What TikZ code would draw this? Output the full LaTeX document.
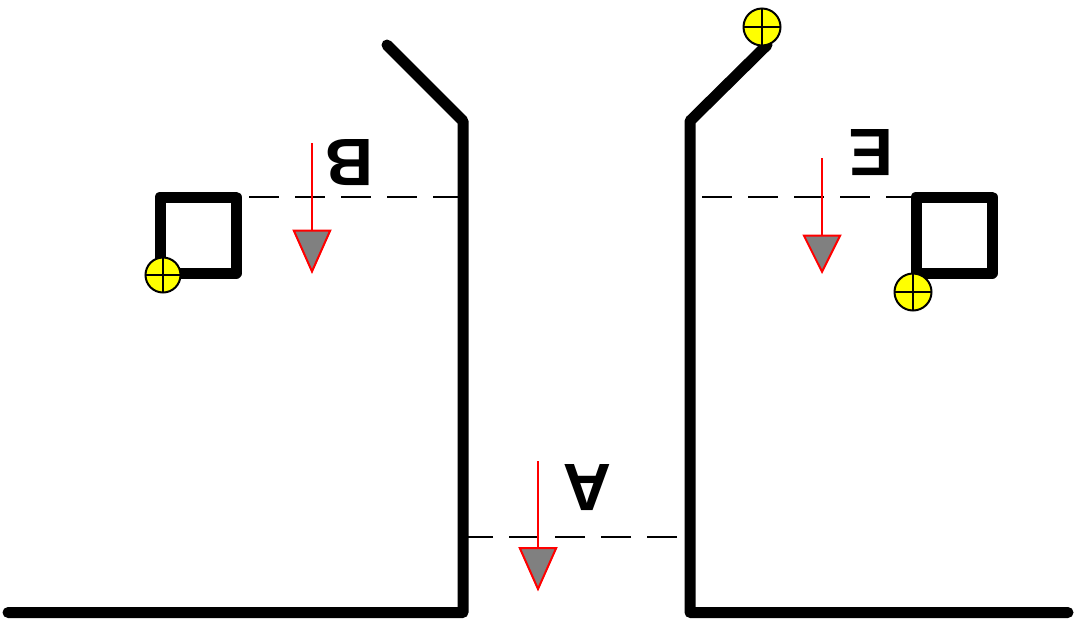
\documentclass[tikz,border=0pt]{standalone}
\usepackage{fontspec}
\setmainfont{Liberation Sans}
\usetikzlibrary{arrows.meta}
\definecolor{weldyellow}{RGB}{255,255,0}
\begin{document}
\begin{tikzpicture}
[x=1pt,y=-1pt,
wall/.style={line width=11pt,line cap=round,line join=round},
box/.style={draw,line width=11pt,line join=round,minimum size=76pt,inner sep=0pt,outer sep=0pt},
weld/.style={circle,draw,line width=2pt,fill=weldyellow,inner sep=0pt,outer sep=0pt,minimum size=#1,
  path picture={\draw[line width=2pt] (path picture bounding box.north) -- (path picture bounding box.south)
    (path picture bounding box.west) -- (path picture bounding box.east);}},
cut/.style={line width=1.8pt,dash pattern=on 30pt off 16pt},
view/.style={red,line width=2pt,-{Triangle[length=#1,width=39pt,fill=gray]}},
view/.default=44.5pt,
letter/.style={font=\bfseries\fontsize{67pt}{67pt}\selectfont,rotate=180,inner sep=0pt}]
\useasboundingbox (0,0) rectangle (1074,630);
% left profile
\coordinate (l0) at (8,612.5);
\coordinate (l1) at (463,612.5);
\coordinate (l2) at (463,121);
\coordinate (l3) at (387,45);
\draw[wall] (l0) -- (l1) -- (l2) -- (l3);
% right profile
\coordinate (r0) at (1068,612.5);
\coordinate (r1) at (690,612.5);
\coordinate (r2) at (690,121);
\coordinate (r3) at (767,45);
\draw[wall] (r0) -- (r1) -- (r2) -- (r3);
% boxes
\node[box] (bl) at (198,235) {};
\node[box] (br) at (954,235) {};
% section lines
\coordinate (c1) at (249,197);
\coordinate (c2) at (463,197);
\coordinate (c3) at (702,197);
\coordinate (c4) at (916,197);
\coordinate (c5) at (677,537);
\coordinate (c6) at (463,537);
\draw[cut] (c1) -- (c2);
\draw[cut] (c3) -- (c4);
\draw[cut] (c5) -- (c6);
% welds
\node[weld=35pt] (w1) at (163,275) {};
\node[weld=37pt] (w2) at (762,27) {};
\node[weld=37pt] (w3) at (913,292) {};
% views
\coordinate (vb0) at (312,143);
\coordinate (vb1) at (312,274);
\coordinate (ve0) at (822,158);
\coordinate (ve1) at (822,274);
\coordinate (va0) at (538,461);
\coordinate (va1) at (538,591.5);
\draw[view] (vb0) -- (vb1);
\draw[view=39.5pt] (ve0) -- (ve1);
\draw[view] (va0) -- (va1);
\node[letter] (lb) at (349,163) {B};
\node[letter] (le) at (871,153) {E};
\node[letter] (la) at (587.5,488) {A};
\end{tikzpicture}
\end{document}
